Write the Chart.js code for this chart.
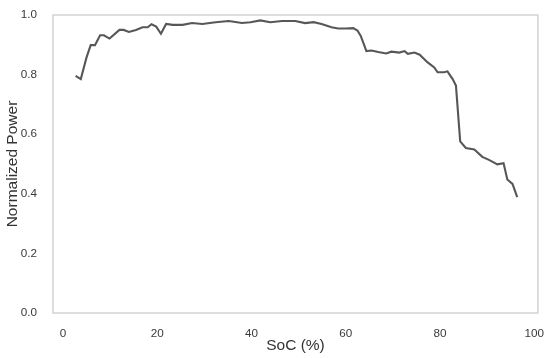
<!DOCTYPE html>
<html>
<head>
<meta charset="utf-8">
<script src="https://cdn.jsdelivr.net/npm/chart.js@4/dist/chart.umd.min.js"></script>
<style>
  html, body { margin: 0; padding: 0; background: #ffffff; }
  #wrap { width: 550px; height: 358px; position: relative; }
</style>
</head>
<body>
<div id="wrap"><canvas id="c"></canvas></div>
<script>
const socValues = [2.7, 3.8, 5.0, 5.9, 6.8, 7.9, 8.7, 9.9, 12.0, 12.9, 14.0, 15.5, 16.9, 18.0, 18.8, 19.8, 20.8, 21.9, 23.3, 25.4, 27.4, 29.6, 32.4, 35.2, 38.0, 39.8, 41.9, 44.0, 46.5, 49.3, 51.4, 53.2, 54.9, 57.0, 58.4, 60.0, 61.6, 62.5, 63.2, 64.4, 65.5, 66.9, 68.6, 69.7, 71.4, 72.5, 73.2, 74.6, 75.7, 77.4, 78.8, 79.5, 80.9, 81.6, 82.7, 83.4, 84.3, 85.5, 87.3, 89.0, 90.4, 92.2, 93.5, 94.3, 95.4, 96.4];
const powerValues = [0.796, 0.785, 0.857, 0.899, 0.899, 0.932, 0.932, 0.921, 0.950, 0.950, 0.943, 0.950, 0.959, 0.959, 0.969, 0.961, 0.937, 0.970, 0.967, 0.967, 0.973, 0.970, 0.976, 0.980, 0.973, 0.976, 0.982, 0.976, 0.980, 0.980, 0.973, 0.976, 0.970, 0.959, 0.955, 0.955, 0.956, 0.948, 0.930, 0.879, 0.881, 0.876, 0.871, 0.877, 0.874, 0.879, 0.870, 0.874, 0.867, 0.841, 0.824, 0.808, 0.808, 0.811, 0.785, 0.763, 0.576, 0.554, 0.549, 0.524, 0.514, 0.499, 0.503, 0.448, 0.433, 0.389];
const xTickValues = [0, 20, 40, 60, 80, 100];
const yTickValues = [0.0, 0.2, 0.4, 0.6, 0.8, 1.0];
const xTitle = "SoC (%)";
const yTitle = "Normalized Power";

const points = socValues.map((x, i) => ({ x: x, y: powerValues[i] }));

const frame = {
  id: 'frame',
  afterDatasetsDraw(chart) {
    const a = chart.chartArea, ctx = chart.ctx;
    ctx.save();
    ctx.strokeStyle = '#cccccc';
    ctx.lineWidth = 1.3;
    ctx.strokeRect(a.left, a.top, a.right - a.left, a.bottom - a.top);
    ctx.restore();
  }
};

const tickFont = { family: "'Liberation Sans', Arial, sans-serif", size: 11.7 };
const titleFont = { family: "'Liberation Sans', Arial, sans-serif", size: 15.5 };

new Chart(document.getElementById('c'), {
  type: 'line',
  data: {
    datasets: [{
      data: points,
      borderColor: '#575757',
      borderWidth: 2.1,
      pointRadius: 0,
      tension: 0,
      fill: false
    }]
  },
  options: {
    responsive: true,
    maintainAspectRatio: false,
    animation: false,
    devicePixelRatio: 1,
    layout: { padding: { top: 10, right: 9, left: 0, bottom: 0 } },
    plugins: { legend: { display: false }, tooltip: { enabled: false } },
    scales: {
      x: {
        type: 'linear',
        min: -2.1,
        max: 100.8,
        grid: { display: false },
        border: { display: false },
        afterBuildTicks: (s) => { s.ticks = xTickValues.map(v => ({ value: v })); },
        afterFit: (s) => { s.height = 45; },
        ticks: { color: '#3a3a3a', font: tickFont, padding: 6, maxRotation: 0, autoSkip: false },
        title: { display: true, text: xTitle, color: '#333333', font: titleFont, padding: { top: 0, bottom: 3 } }
      },
      y: {
        type: 'linear',
        min: 0,
        max: 1,
        grid: { display: false },
        border: { display: false },
        afterBuildTicks: (s) => { s.ticks = yTickValues.map(v => ({ value: v })); },
        afterFit: (s) => { s.width = 53; },
        ticks: { color: '#3a3a3a', font: tickFont, padding: 8, callback: (v) => Number(v).toFixed(1) },
        title: { display: true, text: yTitle, color: '#333333', font: titleFont, padding: { top: 3, bottom: 0 } }
      }
    }
  },
  plugins: [frame]
});
</script>
</body>
</html>
